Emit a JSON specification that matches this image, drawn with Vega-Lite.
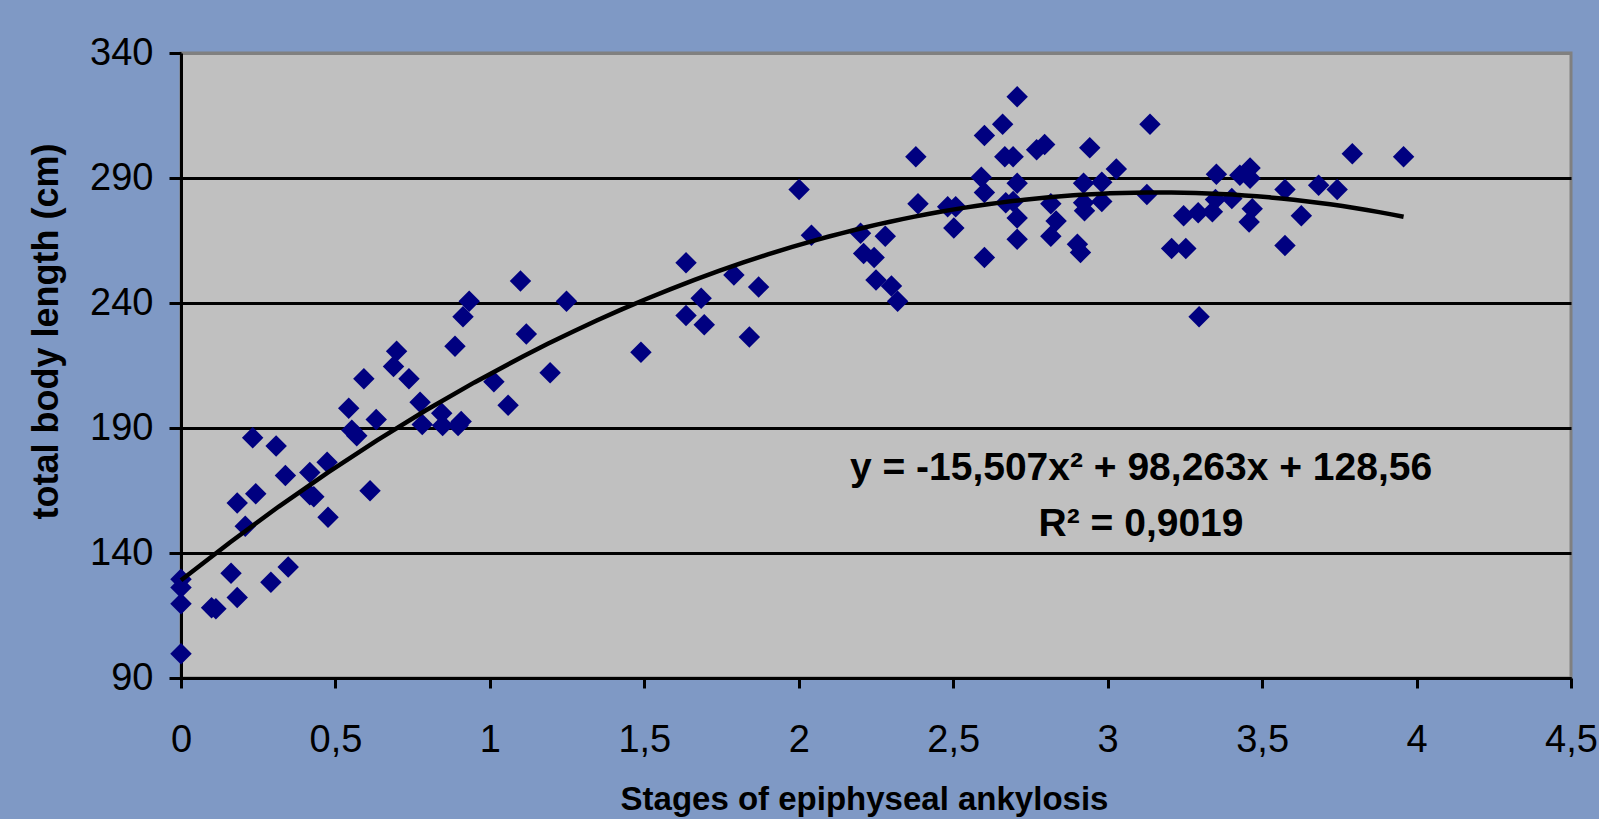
{
  "$schema": "https://vega.github.io/schema/vega-lite/v6.json",
  "width": 1390,
  "height": 625,
  "autosize": {"type": "none"},
  "padding": {"left": 181, "top": 53, "right": 28, "bottom": 141},
  "background": "#7F99C5",
  "config": {
    "font": "Liberation Sans",
    "view": {"fill": "#C0C0C0", "stroke": "#808080", "strokeWidth": 3}
  },
  "datasets": {
    "points": [
      {"stage": 0, "length": 129.5}, {"stage": 0, "length": 126.2}, {"stage": 0, "length": 119.7}, {"stage": 0, "length": 99.7},
      {"stage": 0.099, "length": 118.1}, {"stage": 0.113, "length": 117.7}, {"stage": 0.162, "length": 131.9}, {"stage": 0.182, "length": 122.2},
      {"stage": 0.182, "length": 160.0}, {"stage": 0.208, "length": 150.7}, {"stage": 0.232, "length": 186.1}, {"stage": 0.242, "length": 163.7},
      {"stage": 0.291, "length": 128.3}, {"stage": 0.308, "length": 182.8}, {"stage": 0.338, "length": 171.0}, {"stage": 0.347, "length": 134.4},
      {"stage": 0.417, "length": 172.2}, {"stage": 0.417, "length": 163.3}, {"stage": 0.43, "length": 162.5}, {"stage": 0.473, "length": 176.3},
      {"stage": 0.476, "length": 154.3}, {"stage": 0.543, "length": 197.9}, {"stage": 0.553, "length": 189.1}, {"stage": 0.569, "length": 186.9},
      {"stage": 0.592, "length": 209.7}, {"stage": 0.612, "length": 164.9}, {"stage": 0.632, "length": 193.4}, {"stage": 0.688, "length": 214.6},
      {"stage": 0.698, "length": 220.7}, {"stage": 0.738, "length": 209.7}, {"stage": 0.774, "length": 200.3}, {"stage": 0.781, "length": 191.4},
      {"stage": 0.847, "length": 191.0}, {"stage": 0.844, "length": 195.9}, {"stage": 0.887, "length": 222.7}, {"stage": 0.897, "length": 191.0},
      {"stage": 0.907, "length": 192.6}, {"stage": 0.913, "length": 234.5}, {"stage": 0.933, "length": 240.7}, {"stage": 1.013, "length": 208.5},
      {"stage": 1.059, "length": 199.1}, {"stage": 1.099, "length": 248.8}, {"stage": 1.118, "length": 227.6}, {"stage": 1.195, "length": 212.1},
      {"stage": 1.248, "length": 240.7}, {"stage": 1.489, "length": 220.3}, {"stage": 1.635, "length": 256.1}, {"stage": 1.635, "length": 235.0},
      {"stage": 1.684, "length": 241.9}, {"stage": 1.694, "length": 231.3}, {"stage": 1.79, "length": 251.2}, {"stage": 1.84, "length": 226.4},
      {"stage": 1.87, "length": 246.4}, {"stage": 2.001, "length": 285.4}, {"stage": 2.041, "length": 267.1}, {"stage": 2.2, "length": 267.9},
      {"stage": 2.21, "length": 259.8}, {"stage": 2.244, "length": 258.2}, {"stage": 2.25, "length": 249.2}, {"stage": 2.28, "length": 266.7},
      {"stage": 2.3, "length": 246.8}, {"stage": 2.32, "length": 240.7}, {"stage": 2.379, "length": 298.5}, {"stage": 2.386, "length": 279.7},
      {"stage": 2.482, "length": 278.5}, {"stage": 2.508, "length": 278.5}, {"stage": 2.502, "length": 270.0}, {"stage": 2.601, "length": 307.0},
      {"stage": 2.591, "length": 290.3}, {"stage": 2.601, "length": 284.2}, {"stage": 2.601, "length": 258.2}, {"stage": 2.66, "length": 311.5},
      {"stage": 2.667, "length": 298.5}, {"stage": 2.694, "length": 298.5}, {"stage": 2.67, "length": 280.1}, {"stage": 2.694, "length": 280.6},
      {"stage": 2.707, "length": 287.9}, {"stage": 2.707, "length": 274.0}, {"stage": 2.707, "length": 265.5}, {"stage": 2.707, "length": 322.5},
      {"stage": 2.77, "length": 301.3}, {"stage": 2.796, "length": 303.4}, {"stage": 2.816, "length": 279.7}, {"stage": 2.833, "length": 272.8},
      {"stage": 2.816, "length": 266.7}, {"stage": 2.902, "length": 263.5}, {"stage": 2.912, "length": 260.2}, {"stage": 2.922, "length": 287.9},
      {"stage": 2.922, "length": 280.1}, {"stage": 2.925, "length": 276.9}, {"stage": 2.942, "length": 302.1}, {"stage": 2.981, "length": 288.3},
      {"stage": 2.981, "length": 280.6}, {"stage": 3.028, "length": 293.6}, {"stage": 3.127, "length": 283.4}, {"stage": 3.137, "length": 311.5},
      {"stage": 3.207, "length": 261.8}, {"stage": 3.246, "length": 274.9}, {"stage": 3.253, "length": 261.8}, {"stage": 3.293, "length": 276.1},
      {"stage": 3.296, "length": 234.5}, {"stage": 3.339, "length": 276.5}, {"stage": 3.349, "length": 281.4}, {"stage": 3.352, "length": 291.5},
      {"stage": 3.402, "length": 281.8}, {"stage": 3.428, "length": 291.1}, {"stage": 3.461, "length": 294.0}, {"stage": 3.461, "length": 289.9},
      {"stage": 3.458, "length": 272.4}, {"stage": 3.468, "length": 277.7}, {"stage": 3.574, "length": 285.4}, {"stage": 3.574, "length": 263.0},
      {"stage": 3.627, "length": 274.9}, {"stage": 3.683, "length": 287.1}, {"stage": 3.743, "length": 285.4}, {"stage": 3.792, "length": 299.7},
      {"stage": 3.958, "length": 298.5}
    ],
    "note": [
      {"lines": ["y = -15,507x² + 98,263x + 128,56", "R² = 0,9019"]}
    ]
  },
  "layer": [
    {
      "data": {"name": "points"},
      "mark": {"type": "point", "shape": "diamond", "filled": true, "color": "#000080", "opacity": 1, "size": 460},
      "encoding": {
        "x": {
          "field": "stage", "type": "quantitative",
          "scale": {"domain": [0, 4.5], "nice": false, "zero": false},
          "axis": {
            "values": [0, 0.5, 1, 1.5, 2, 2.5, 3, 3.5, 4, 4.5],
            "labelExpr": "replace(toString(datum.value), '.', ',')",
            "labelFontSize": 38, "labelColor": "black", "labelPadding": 33, "labelFlush": false,
            "domainColor": "black", "domainWidth": 3, "tickColor": "black", "tickWidth": 3, "tickSize": 10,
            "grid": false,
            "title": "Stages of epiphyseal ankylosis",
            "titleFontSize": 33, "titleFontWeight": "bold", "titleColor": "black",
            "titleX": 683, "titleY": 131, "titleBaseline": "alphabetic", "titleAlign": "center"
          }
        },
        "y": {
          "field": "length", "type": "quantitative",
          "scale": {"domain": [90, 340], "nice": false, "zero": false},
          "axis": {
            "values": [90, 140, 190, 240, 290, 340],
            "labelFontSize": 38, "labelColor": "black", "labelPadding": 16,
            "domainColor": "black", "domainWidth": 3, "tickColor": "black", "tickWidth": 3, "tickSize": 12,
            "grid": true, "gridWidth": 3,
            "gridColor": {"condition": {"test": "datum.value === 340", "value": "#808080"}, "value": "black"},
            "title": "total body length (cm)",
            "titleFontSize": 36, "titleFontWeight": "bold", "titleColor": "black",
            "titleX": -135, "titleY": 278, "titleBaseline": "middle", "titleAlign": "center", "titleAngle": 270
          }
        }
      }
    },
    {
      "data": {"name": "points"},
      "transform": [{"regression": "length", "on": "stage", "method": "poly", "order": 2}],
      "mark": {"type": "line", "color": "black", "strokeWidth": 4.5},
      "encoding": {
        "x": {"field": "stage", "type": "quantitative"},
        "y": {"field": "length", "type": "quantitative"}
      }
    },
    {
      "data": {"name": "note"},
      "mark": {
        "type": "text", "align": "center", "baseline": "middle",
        "font": "Liberation Sans", "fontSize": 39, "fontWeight": "bold", "color": "black",
        "lineHeight": 56
      },
      "encoding": {
        "text": {"field": "lines"},
        "x": {"datum": 3.108, "type": "quantitative"},
        "y": {"datum": 174, "type": "quantitative"}
      }
    }
  ]
}
